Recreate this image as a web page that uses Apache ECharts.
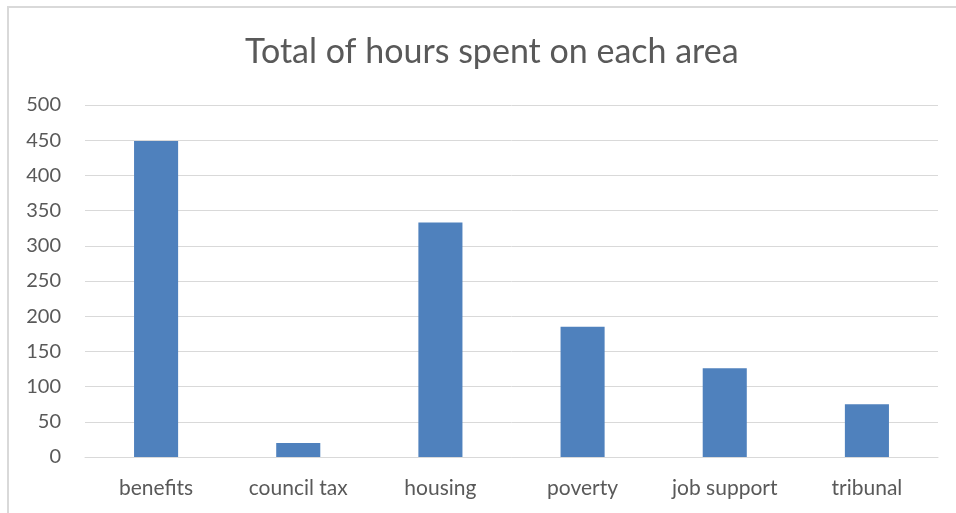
<!DOCTYPE html>
<html>
<head>
<meta charset="utf-8">
<script src="https://cdn.jsdelivr.net/npm/echarts@6/dist/echarts.min.js"></script>
<style>
  html, body { margin: 0; padding: 0; background: #fff; }
  #frame { position: absolute; left: 7px; top: 6px; width: 960px; height: 520px;
           border-left: 2px solid #d9d9d9; border-top: 2px solid #d9d9d9; }
  #chart { position: absolute; left: 0; top: 0; width: 956px; height: 513px; }
</style>
</head>
<body>
<div id="frame"></div>
<div id="chart"></div>
<script>
const categories = ['benefits', 'council tax', 'housing', 'poverty', 'job support', 'tribunal'];
const hours = [449, 20, 333, 185, 126, 75];
const yTicks = { min: 0, max: 500, interval: 50 };

const chart = echarts.init(document.getElementById('chart'));
chart.setOption({
  animation: false,
  textStyle: { fontFamily: 'Lato' },
  title: {
    text: 'Total of hours spent on each area',
    left: 240,
    top: 30,
    textStyle: { fontFamily: 'Lato', fontSize: 34, fontWeight: 'normal', color: '#595959' },
  },
  grid: { left: 85, right: 18, top: 105, bottom: 56 },
  xAxis: {
    type: 'category',
    data: categories,
    axisTick: { show: false },
    axisLine: { lineStyle: { color: '#d9d9d9', width: 1 } },
    axisLabel: { color: '#595959', fontSize: 21, margin: 21 },
  },
  yAxis: {
    type: 'value',
    min: yTicks.min,
    max: yTicks.max,
    interval: yTicks.interval,
    axisLine: { show: false },
    axisTick: { show: false },
    axisLabel: { color: '#595959', fontSize: 20, margin: 24 },
    splitLine: { lineStyle: { color: '#d9d9d9', width: 1 } },
  },
  series: [
    {
      type: 'bar',
      data: hours,
      barWidth: '31%',
      itemStyle: { color: '#4f81bd' },
    },
  ],
});
</script>
</body>
</html>
